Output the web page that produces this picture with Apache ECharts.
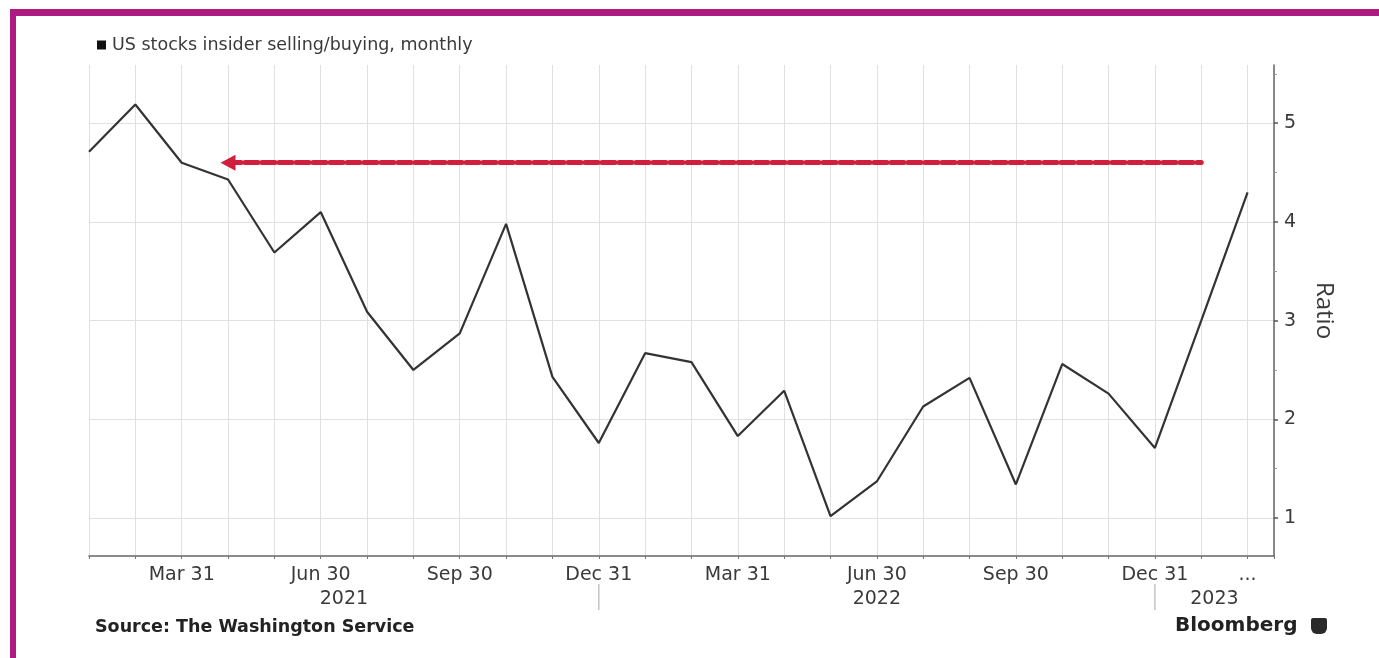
<!DOCTYPE html>
<html>
<head>
<meta charset="utf-8">
<script src="https://cdn.jsdelivr.net/npm/echarts@6/dist/echarts.min.js"></script>
<style>
  html, body { margin: 0; padding: 0; background: #fff; }
  #chart { width: 1379px; height: 658px; }
</style>
</head>
<body>
<div id="chart"></div>
<script>
// Monthly US insider selling/buying ratio, Jan 2021 – Feb 2023
const months = [
  '2021-01','2021-02','2021-03','2021-04','2021-05','2021-06',
  '2021-07','2021-08','2021-09','2021-10','2021-11','2021-12',
  '2022-01','2022-02','2022-03','2022-04','2022-05','2022-06',
  '2022-07','2022-08','2022-09','2022-10','2022-11','2022-12',
  '2023-01','2023-02'
];
const ratio = [
  4.71, 5.19, 4.60, 4.43, 3.69, 4.10,
  3.09, 2.50, 2.87, 3.98, 2.43, 1.76,
  2.67, 2.58, 1.83, 2.29, 1.02, 1.37,
  2.13, 2.42, 1.34, 2.56, 2.26, 1.71,
  3.00, 4.30
];
// Quarter-end tick labels keyed by month index
const tickLabels = {
  2: 'Mar 31', 5: 'Jun 30', 8: 'Sep 30', 11: 'Dec 31',
  14: 'Mar 31', 17: 'Jun 30', 20: 'Sep 30', 23: 'Dec 31', 25: '...'
};
const yLabels = [1, 2, 3, 4, 5];
const yHalfTicks = [1.5, 2.5, 3.5, 4.5, 5.5];
const years = ['2021', '2022', '2023'];
// Reference level: where the ratio stood in spring 2021
const arrowLevel = 4.6;
const arrowFrom = 3;   // Apr 2021
const arrowTo = 24;    // Jan 2023

const X_MAX = 25.57;
const Y_MIN = 0.615;
const Y_MAX = 5.59;

const FONT = '"DejaVu Sans", Verdana, sans-serif';
const TEXT = '#3a3a3a';
const AXIS = '#666';

const chart = echarts.init(document.getElementById('chart'), null, { renderer: 'canvas' });

const option = {
  animation: false,
  backgroundColor: '#ffffff',
  grid: { left: 89, right: 105, top: 65, bottom: 102, containLabel: false },
  legend: {
    left: 97, top: 36, padding: 0,
    icon: 'rect', itemWidth: 9, itemHeight: 9, itemGap: 4,
    textStyle: { fontFamily: FONT, fontSize: 17.5, color: TEXT, padding: [0, 0, 0, 1] },
    data: ['US stocks insider selling/buying, monthly']
  },
  xAxis: {
    type: 'value',
    min: 0, max: X_MAX, interval: 1,
    axisLine: { show: true, onZero: false, lineStyle: { color: AXIS, width: 1.5 } },
    axisTick: { show: true, length: 3, lineStyle: { color: '#777' } },
    splitLine: { show: true, lineStyle: { color: '#e0e0e0', width: 1 } },
    axisLabel: {
      margin: 10, fontFamily: FONT, fontSize: 19, color: TEXT,
      formatter: v => (tickLabels[v] !== undefined ? tickLabels[v] : '')
    }
  },
  yAxis: [{
    type: 'value', position: 'right',
    min: Y_MIN, max: Y_MAX,
    name: 'Ratio', nameLocation: 'middle', nameRotate: -90, nameGap: 38,
    nameTextStyle: { fontFamily: '"Open Sans", sans-serif', fontSize: 24, color: TEXT },
    axisLine: { show: true, onZero: false, lineStyle: { color: AXIS, width: 1.5 } },
    axisTick: { show: true, length: 4, customValues: yLabels, lineStyle: { color: '#555', width: 1.5 } },
    splitLine: { show: true, lineStyle: { color: '#e0e0e0', width: 1 } },
    axisLabel: {
      margin: 10, fontFamily: FONT, fontSize: 19, color: TEXT,
      customValues: yLabels,
      formatter: v => String(v)
    }
  }, {
    // half-unit minor ticks on the same scale
    type: 'value', position: 'right',
    min: Y_MIN, max: Y_MAX,
    axisLine: { show: false, onZero: false },
    axisTick: { show: true, length: 3, customValues: yHalfTicks, lineStyle: { color: '#999' } },
    splitLine: { show: false },
    axisLabel: { show: false }
  }],
  series: [{
    name: 'US stocks insider selling/buying, monthly',
    type: 'line',
    yAxisIndex: 0,
    data: ratio.map((v, i) => [i, v]),
    showSymbol: false,
    symbol: 'none',
    itemStyle: { color: '#111' },
    lineStyle: { color: '#333', width: 2.2 },
    markLine: {
      silent: true,
      symbol: ['triangle', 'none'],
      symbolSize: [16, 15],
      label: { show: false },
      lineStyle: { color: '#cf1f3c', width: 5, type: [13, 4], cap: 'round', opacity: 1 },
      emphasis: { disabled: true },
      data: [[
        { coord: [arrowFrom, arrowLevel] },
        { coord: [arrowTo, arrowLevel] }
      ]]
    }
  }]
};

chart.setOption(option);

// Year labels and year separators under the quarter labels, positioned via the x scale
const px = v => chart.convertToPixel({ xAxisIndex: 0 }, v);
const clampX = v => Math.max(0, Math.min(X_MAX, v));
const graphics = [];
years.forEach((y, k) => {
  const start = clampX(12 * k - 1);
  const end = clampX(12 * k + 11);
  graphics.push({
    type: 'text', silent: true,
    x: (px(start) + px(end)) / 2, y: 599,
    style: { text: y, font: '19px ' + FONT, fill: TEXT, align: 'center', verticalAlign: 'middle' }
  });
  if (end < X_MAX) {
    graphics.push({
      type: 'line', silent: true,
      shape: { x1: px(end), y1: 584, x2: px(end), y2: 610 },
      style: { stroke: '#c4c4c4', lineWidth: 1.5 }
    });
  }
});

// Footer: source and brand mark
graphics.push({
  type: 'text', silent: true, x: 95, y: 627,
  style: { text: 'Source: The Washington Service', font: 'bold 17.5px ' + FONT, fill: '#222', verticalAlign: 'middle' }
});
graphics.push({
  type: 'text', silent: true, x: 1175, y: 626,
  style: { text: 'Bloomberg', font: 'bold 20px ' + FONT, fill: '#222', verticalAlign: 'middle' }
});
graphics.push({
  type: 'rect', silent: true,
  shape: { x: 1311, y: 618, width: 16, height: 16, r: [2, 2, 6, 6] },
  style: { fill: '#2a2a2a' }
});

// Magenta frame along the top and left edges
graphics.push({
  type: 'rect', silent: true,
  shape: { x: 10, y: 9, width: 1369, height: 7 },
  style: { fill: '#ae1a80' }
});
graphics.push({
  type: 'rect', silent: true,
  shape: { x: 10, y: 9, width: 6, height: 649 },
  style: { fill: '#ae1a80' }
});

chart.setOption({ graphic: graphics });
</script>
</body>
</html>
